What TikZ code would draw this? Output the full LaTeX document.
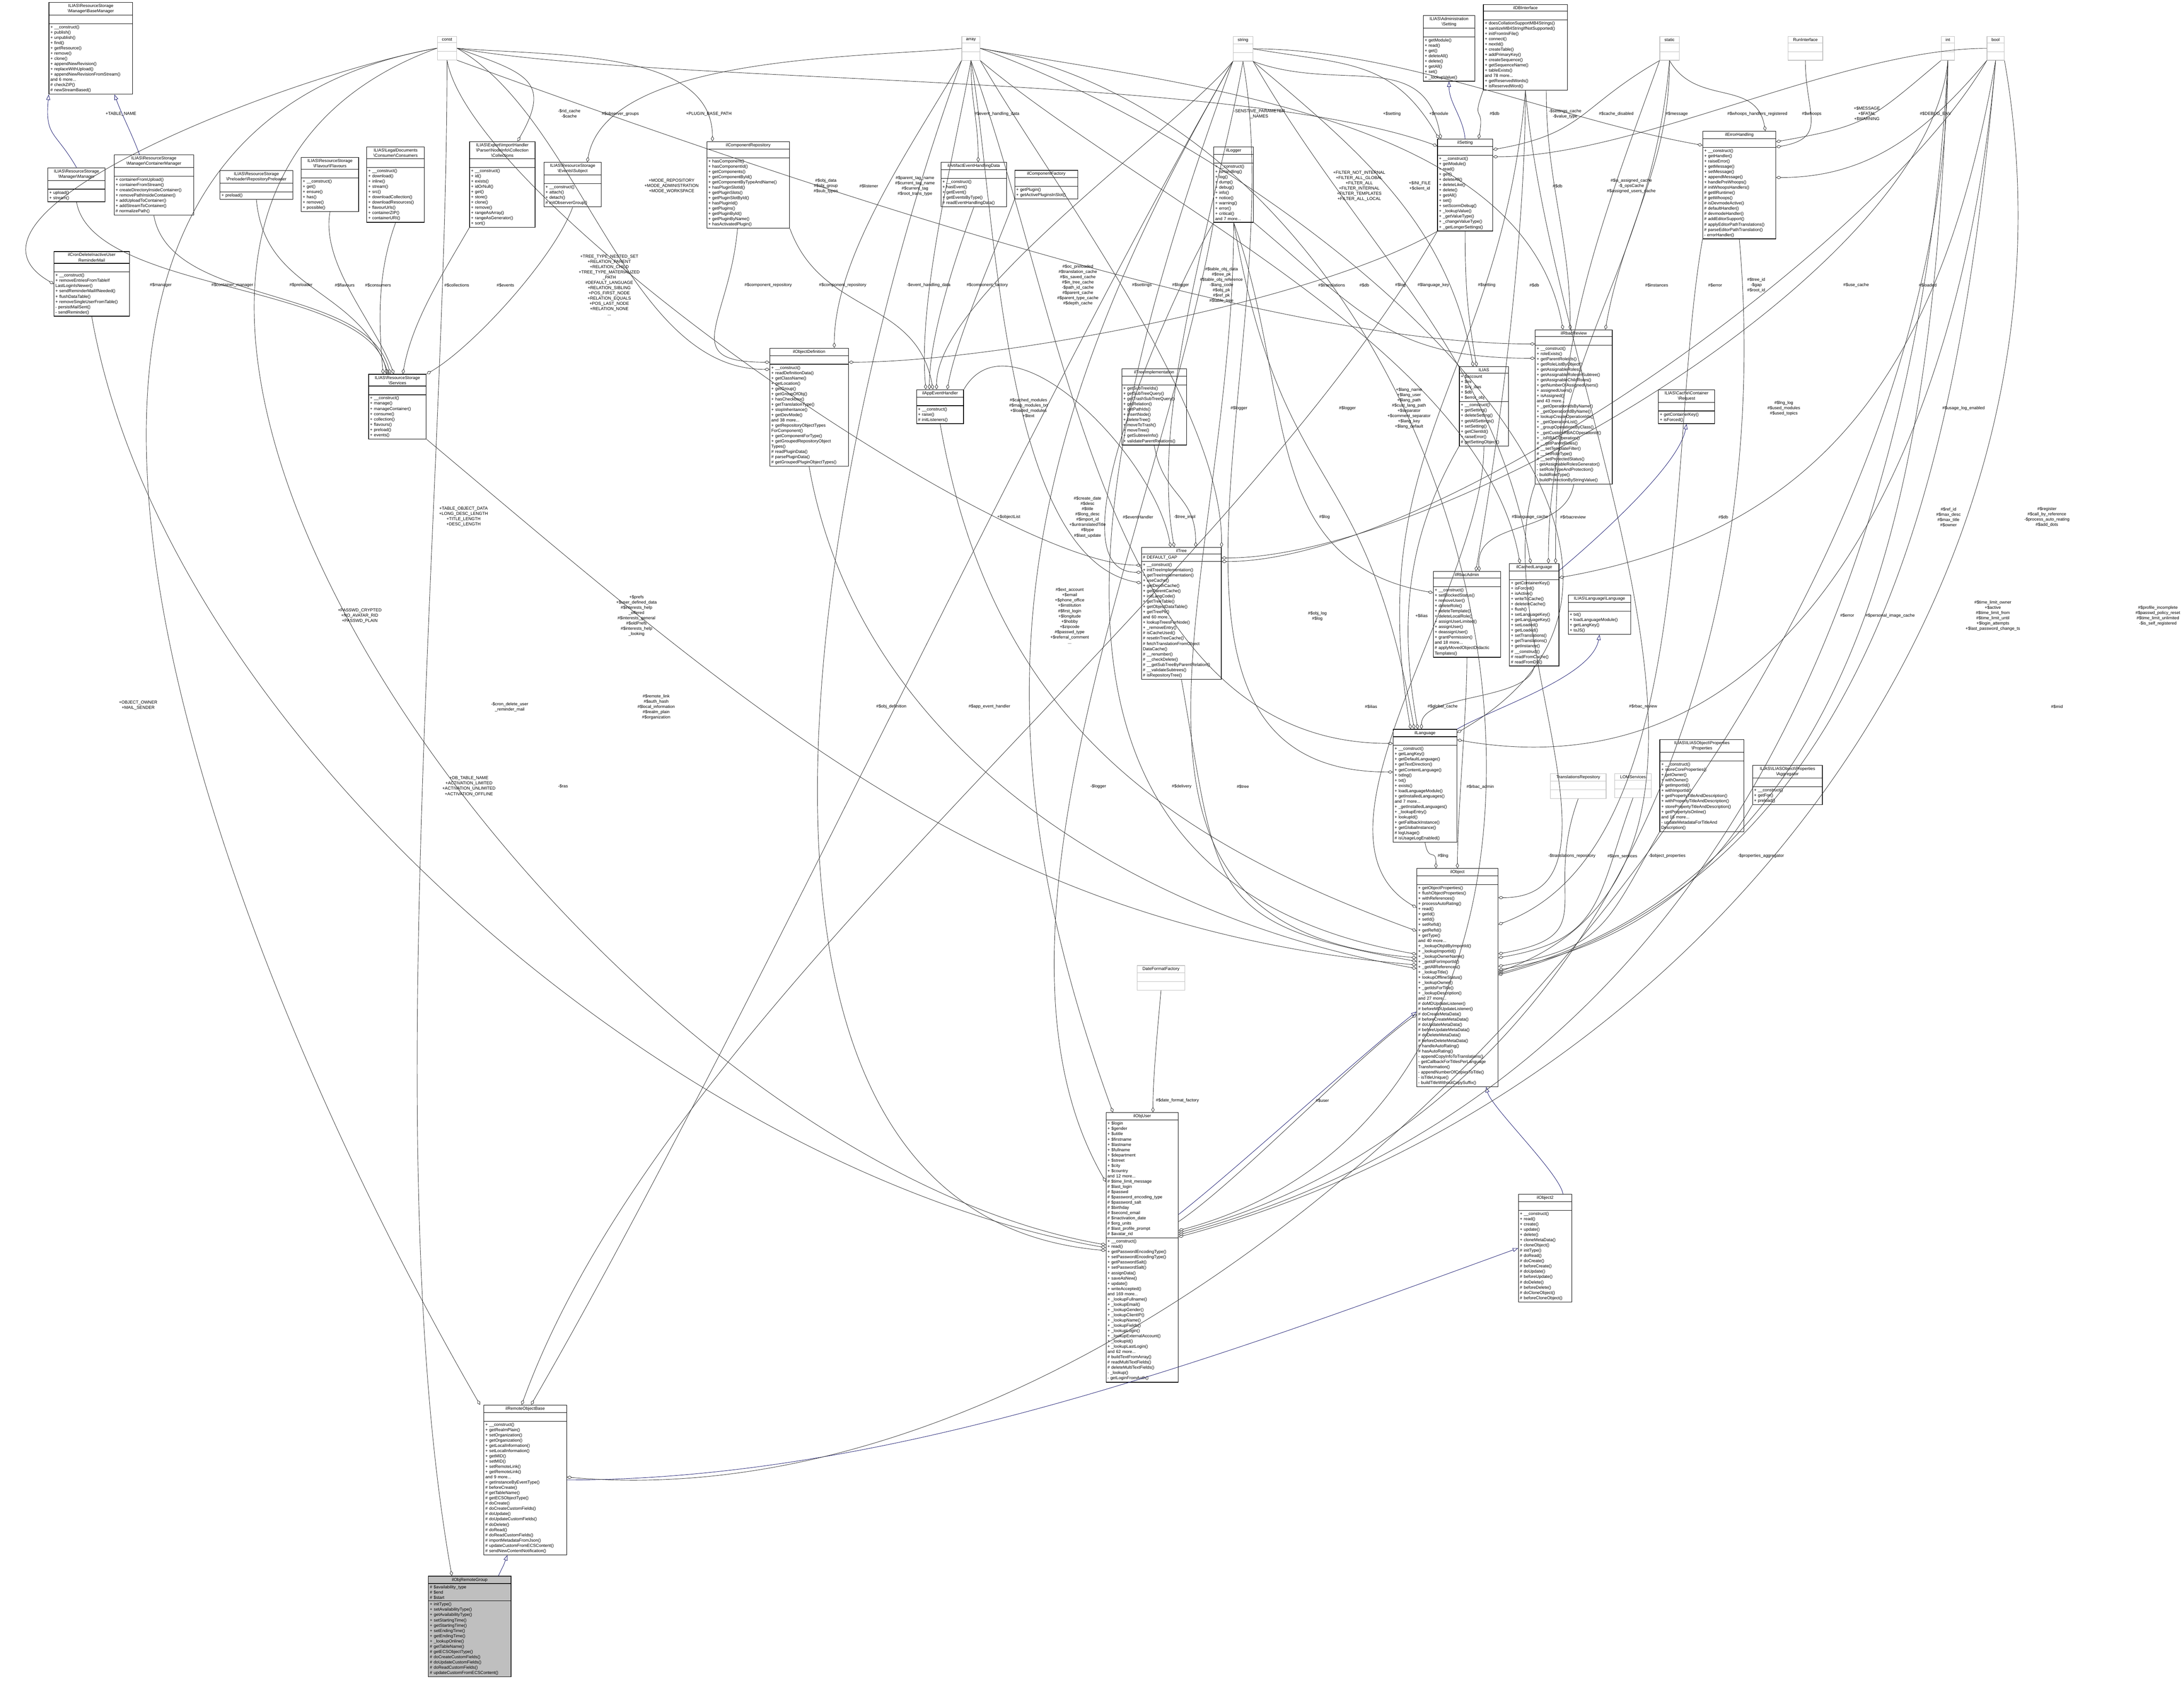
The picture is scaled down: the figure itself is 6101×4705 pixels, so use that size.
\documentclass[tikz,border=0pt]{standalone}
\usepackage{fontspec}
\setmainfont{Liberation Sans}
\usetikzlibrary{shapes.multipart,arrows.meta}
\definecolor{navy}{HTML}{191970}
\definecolor{typegray}{HTML}{BFBFBF}
\newcommand{\bsl}{\textbackslash}
\tikzset{
  cls/.style={rectangle split, rectangle split parts=3, draw, line width=1.5pt,
    anchor=north west, align=left, inner xsep=4pt, inner ysep=4pt,
    font=\fontsize{12}{14.7}\selectfont},
  tbox/.style={cls, draw=typegray},
  lbl/.style={font=\fontsize{12}{14.7}\selectfont, align=center, inner sep=0pt},
  ctl/.style n args={3}{to path={.. controls +(#1:#3) and +(#2:#3) .. (\tikztotarget)}},
  agg/.style={line width=1.1pt, draw=black!80, -{Diamond[open,length=15pt,width=9pt]}},
  inh/.style={line width=1.1pt, draw=navy, -{Triangle[open,length=15pt,width=11pt]}}
}
\begin{document}
\begin{tikzpicture}[x=1pt,y=-1pt]
\useasboundingbox (0,0) rectangle (6101,4705);

% type boxes
\node[tbox, text width=46pt] (tconst) at (1221,101) {\centering const\par\nodepart{two}\strut\nodepart{three}\strut};
\node[tbox, text width=43pt] (tarray) at (2686,101) {\centering array\par\nodepart{two}\strut\nodepart{three}\strut};
\node[tbox, text width=47pt] (tstring) at (3444,101) {\centering string\par\nodepart{two}\strut\nodepart{three}\strut};
\node[tbox, text width=46pt] (tstatic) at (4636,101) {\centering static\par\nodepart{two}\strut\nodepart{three}\strut};
\node[tbox, text width=89pt] (trun) at (4994,101) {\centering RunInterface\par\nodepart{two}\strut\nodepart{three}\strut};
\node[tbox, text width=29pt] (tint) at (5422,101) {\centering int\par\nodepart{two}\strut\nodepart{three}\strut};
\node[tbox, text width=40pt] (tbool) at (5550,101) {\centering bool\par\nodepart{two}\strut\nodepart{three}\strut};
\node[tbox, text width=148pt] (ttransrepo) at (4330,2161) {\centering TranslationsRepository\par\nodepart{two}\strut\nodepart{three}\strut};
\node[tbox, text width=94pt] (tlom) at (4510,2161) {\centering LOMServices\par\nodepart{two}\strut\nodepart{three}\strut};
\node[tbox, text width=125pt] (tdatefmt) at (3176,2697) {\centering DateFormatFactory\par\nodepart{two}\strut\nodepart{three}\strut};

% resource storage
\node[cls, text width=226pt] (basemgr) at (136,6) {\centering ILIAS\bsl ResourceStorage\\\bsl Manager\bsl BaseManager\par
  \nodepart{two}\strut
  \nodepart{three}+ \_\_construct()\\+ publish()\\+ unpublish()\\+ find()\\+ getResource()\\+ remove()\\+ clone()\\+ appendNewRevision()\\+ replaceWithUpload()\\+ appendNewRevisionFromStream()\\and 6 more...\\\# checkZIP()\\\# newStreamBased()};
\node[cls, text width=152pt] (rsmgr) at (133,468) {\centering ILIAS\bsl ResourceStorage\\\bsl Manager\bsl Manager\par
  \nodepart{two}\strut
  \nodepart{three}+ upload()\\+ stream()};
\node[cls, text width=214pt] (contmgr) at (318,432) {\centering ILIAS\bsl ResourceStorage\\\bsl Manager\bsl ContainerManager\par
  \nodepart{two}\strut
  \nodepart{three}+ containerFromUpload()\\+ containerFromStream()\\+ createDirectoryInsideContainer()\\+ removePathInsideContainer()\\+ addUploadToContainer()\\+ addStreamToContainer()\\\# normalizePath()};
\node[cls, text width=195pt] (preload) at (614,476) {\centering ILIAS\bsl ResourceStorage\\\bsl Preloader\bsl RepositoryPreloader\par
  \nodepart{two}\strut
  \nodepart{three}+ preload()};
\node[cls, text width=152pt] (flavours) at (841,439) {\centering ILIAS\bsl ResourceStorage\\\bsl Flavour\bsl Flavours\par
  \nodepart{two}\strut
  \nodepart{three}+ \_\_construct()\\+ get()\\+ ensure()\\+ has()\\+ remove()\\+ possible()};
\node[cls, text width=153pt] (consumers) at (1024,410) {\centering ILIAS\bsl LegalDocuments\\\bsl Consumer\bsl Consumers\par
  \nodepart{two}\strut
  \nodepart{three}+ \_\_construct()\\+ download()\\+ inline()\\+ stream()\\+ src()\\+ downloadCollection()\\+ downloadResources()\\+ flavourUrls()\\+ containerZIP()\\+ containerURI()};
\node[cls, text width=175pt] (collections) at (1311,395) {\centering ILIAS\bsl Export\bsl ImportHandler\\\bsl Parser\bsl NodeInfo\bsl Collection\\\bsl Collections\par
  \nodepart{two}\strut
  \nodepart{three}+ \_\_construct()\\+ id()\\+ exists()\\+ idOrNull()\\+ get()\\+ store()\\+ clone()\\+ remove()\\+ rangeAsArray()\\+ rangeAsGenerator()\\+ sort()};
\node[cls, text width=152pt] (evsubject) at (1519,453) {\centering ILIAS\bsl ResourceStorage\\\bsl Events\bsl Subject\par
  \nodepart{two}\strut
  \nodepart{three}+ \_\_construct()\\+ attach()\\+ detach()\\\# initObserverGroup()};
\node[cls, text width=203pt] (cronmail) at (150,702) {\centering ilCronDeleteInactiveUser\\ReminderMail\par
  \nodepart{two}\strut
  \nodepart{three}+ \_\_construct()\\+ removeEntriesFromTableIf\\LastLoginIsNewer()\\+ sendReminderMailIfNeeded()\\+ flushDataTable()\\+ removeSingleUserFromTable()\\- persistMailSent()\\- sendReminder()};
\node[cls, text width=153pt] (services) at (1029,1045) {\centering ILIAS\bsl ResourceStorage\\\bsl Services\par
  \nodepart{two}\strut
  \nodepart{three}+ \_\_construct()\\+ manage()\\+ manageContainer()\\+ consume()\\+ collection()\\+ flavours()\\+ preload()\\+ events()};

% components and events
\node[cls, text width=223pt] (comprepo) at (1974,395) {\centering ilComponentRepository\par
  \nodepart{two}\strut
  \nodepart{three}+ hasComponent()\\+ hasComponentId()\\+ getComponents()\\+ getComponentById()\\+ getComponentByTypeAndName()\\+ hasPluginSlotId()\\+ getPluginSlots()\\+ getPluginSlotById()\\+ hasPluginId()\\+ getPlugins()\\+ getPluginById()\\+ getPluginByName()\\+ hasActivatedPlugin()};
\node[cls, text width=211pt] (objdef) at (2150,972) {\centering ilObjectDefinition\par
  \nodepart{two}\strut
  \nodepart{three}+ \_\_construct()\\+ readDefinitionData()\\+ getClassName()\\+ getLocation()\\+ getGroup()\\+ getGroupOfObj()\\+ hasCheckbox()\\+ getTranslationType()\\+ stopInheritance()\\+ getDevMode()\\and 38 more...\\+ getRepositoryObjectTypes\\ForComponent()\\+ getComponentForType()\\+ getGroupedRepositoryObject\\Types()\\\# readPluginData()\\\# parsePluginData()\\\# getGroupedPluginObjectTypes()};
\node[cls, text width=175pt] (artevent) at (2628,453) {\centering ilArtifactEventHandlingData\par
  \nodepart{two}\strut
  \nodepart{three}+ \_\_construct()\\+ hasEvent()\\+ getEvent()\\+ getEventsByType()\\\# readEventHandlingData()};
\node[cls, text width=168pt] (compfact) at (2834,475) {\centering ilComponentFactory\par
  \nodepart{two}\strut
  \nodepart{three}+ getPlugin()\\+ getActivePluginsInSlot()};
\node[cls, text width=123pt] (appevent) at (2560,1088) {\centering ilAppEventHandler\par
  \nodepart{two}\strut
  \nodepart{three}+ \_\_construct()\\+ raise()\\\# initListeners()};
\node[cls, text width=173pt] (treeimpl) at (3133,1030) {\centering ilTreeImplementation\par
  \nodepart{two}\strut
  \nodepart{three}+ getSubTreeIds()\\+ getSubTreeQuery()\\+ getTrashSubTreeQuery()\\+ getRelation()\\+ getPathIds()\\+ insertNode()\\+ deleteTree()\\+ moveToTrash()\\+ moveTree()\\+ getSubtreeInfo()\\+ validateParentRelations()};

% settings, db, logging
\node[cls, text width=103pt] (logger) at (3390,410) {\centering ilLogger\par
  \nodepart{two}\strut
  \nodepart{three}+ \_\_construct()\\+ isHandling()\\+ log()\\+ dump()\\+ debug()\\+ info()\\+ notice()\\+ warning()\\+ error()\\+ critical()\\and 7 more...};
\node[cls, text width=136pt] (admset) at (3975,43) {\centering ILIAS\bsl Administration\\\bsl Setting\par
  \nodepart{two}\strut
  \nodepart{three}+ getModule()\\+ read()\\+ get()\\+ deleteAll()\\+ delete()\\+ getAll()\\+ set()\\+ \_lookupValue()};
\node[cls, text width=227pt] (dbif) at (4143,12) {\centering ilDBInterface\par
  \nodepart{two}\strut
  \nodepart{three}+ doesCollationSupportMB4Strings()\\+ sanitizeMB4StringIfNotSupported()\\+ initFromIniFile()\\+ connect()\\+ nextId()\\+ createTable()\\+ addPrimaryKey()\\+ createSequence()\\+ getSequenceName()\\+ tableExists()\\and 78 more...\\+ getReservedWords()\\+ isReservedWord()};
\node[cls, text width=146pt] (setting) at (4015,388) {\centering ilSetting\par
  \nodepart{two}\strut
  \nodepart{three}+ \_\_construct()\\+ getModule()\\+ read()\\+ get()\\+ deleteAll()\\+ deleteLike()\\+ delete()\\+ getAll()\\+ set()\\+ setScormDebug()\\+ \_lookupValue()\\+ \_getValueType()\\+ \_changeValueType()\\+ \_getLongerSettings()};
\node[cls, text width=129pt] (ilias) at (4076,1024) {\centering ILIAS\par
  \nodepart{two}+ \$account\\+ \$ini\\+ \$ini\_ilias\\+ \$db\\+ \$error\_obj
  \nodepart{three}+ \_\_construct()\\+ getSetting()\\+ deleteSetting()\\+ getAllSettings()\\+ setSetting()\\+ getClientId()\\+ raiseError()\\\# getSettingObject()};
\node[cls, text width=207pt] (rbacrev) at (4288,921) {\centering ilRbacReview\par
  \nodepart{two}\strut
  \nodepart{three}+ \_\_construct()\\+ roleExists()\\+ getParentRoleIds()\\+ getRoleListByObject()\\+ getAssignableRoles()\\+ getAssignableRolesInSubtree()\\+ getAssignableChildRoles()\\+ getNumberOfAssignedUsers()\\+ assignedUsers()\\+ isAssigned()\\and 43 more...\\+ \_getOperationIdsByName()\\+ \_getOperationIdByName()\\+ lookupCreateOperationIds()\\+ \_getOperationList()\\+ \_groupOperationsByClass()\\+ \_getCustomRBACOperationId()\\+ \_isRBACOperation()\\\# \_\_getParentRoles()\\\# \_\_setTemplateFilter()\\\# \_\_setRoleType()\\\# \_\_setProtectedStatus()\\- getAssignableRolesGenerator()\\- setRoleTypeAndProtection()\\- buildRoleType()\\- buildProtectionByStringValue()};
\node[cls, text width=196pt] (errh) at (4756,366) {\centering ilErrorHandling\par
  \nodepart{two}\strut
  \nodepart{three}+ \_\_construct()\\+ getHandler()\\+ raiseError()\\+ getMessage()\\+ setMessage()\\+ appendMessage()\\+ handlePreWhoops()\\\# initWhoopsHandlers()\\\# getIlRuntime()\\\# getWhoops()\\\# isDevmodeActive()\\\# defaultHandler()\\\# devmodeHandler()\\\# addEditorSupport()\\\# applyEditorPathTranslations()\\\# parseEditorPathTranslation()\\- errorHandler()};
\node[cls, text width=149pt] (cachereq) at (4632,1088) {\centering ILIAS\bsl Cache\bsl Container\\\bsl Request\par
  \nodepart{two}\strut
  \nodepart{three}+ getContainerKey()\\+ isForced()};

% tree, rbac, language
\node[cls, text width=215pt] (tree) at (3188,1529) {\centering ilTree\par
  \nodepart{two}\# DEFAULT\_GAP
  \nodepart{three}+ \_\_construct()\\+ initTreeImplementation()\\+ getTreeImplementation()\\+ useCache()\\+ getDepthCache()\\+ getParentCache()\\+ initLangCode()\\+ getTreeTable()\\+ getObjectDataTable()\\+ getTreePk()\\and 60 more...\\+ lookupTreesForNode()\\+ \_removeEntry()\\\# isCacheUsed()\\\# resetInTreeCache()\\\# fetchTranslationFromObject\\DataCache()\\\# \_\_renumber()\\\# \_\_checkDelete()\\\# \_\_getSubTreeByParentRelation()\\\# \_\_validateSubtrees()\\\# isRepositoryTree()};
\node[cls, text width=180pt] (rbacadm) at (4003,1596) {\centering ilRbacAdmin\par
  \nodepart{two}\strut
  \nodepart{three}+ \_\_construct()\\+ setBlockedStatus()\\+ removeUser()\\+ deleteRole()\\+ deleteTemplate()\\+ deleteLocalRole()\\+ assignUserLimited()\\+ assignUser()\\+ deassignUser()\\+ grantPermission()\\and 18 more...\\\# applyMovedObjectDidactic\\Templates()};
\node[cls, text width=130pt] (cachedlang) at (4216,1574) {\centering ilCachedLanguage\par
  \nodepart{two}\strut
  \nodepart{three}+ getContainerKey()\\+ isForced()\\+ isActive()\\+ writeToCache()\\+ deleteInCache()\\+ flush()\\+ setLanguageKey()\\+ getLanguageKey()\\+ setLoaded()\\+ getLoaded()\\+ setTranslations()\\+ getTranslations()\\+ getInstance()\\\# \_\_construct()\\\# readFromCache()\\\# readFromDB()};
\node[cls, text width=167pt] (langif) at (4380,1662) {\centering ILIAS\bsl Language\bsl Language\par
  \nodepart{two}\strut
  \nodepart{three}+ txt()\\+ loadLanguageModule()\\+ getLangKey()\\+ toJS()};
\node[cls, text width=170pt] (language) at (3891,2037) {\centering ilLanguage\par
  \nodepart{two}\strut
  \nodepart{three}+ \_\_construct()\\+ getLangKey()\\+ getDefaultLanguage()\\+ getTextDirection()\\+ getContentLanguage()\\+ txtlng()\\+ txt()\\+ exists()\\+ loadLanguageModule()\\+ getInstalledLanguages()\\and 7 more...\\+ \_getInstalledLanguages()\\+ \_lookupEntry()\\+ lookupId()\\+ getFallbackInstance()\\+ getGlobalInstance()\\\# logUsage()\\\# isUsageLogEnabled()};
\node[cls, text width=227pt] (props) at (4636,2066) {\centering ILIAS\bsl ILIASObject\bsl Properties\\\bsl Properties\par
  \nodepart{two}\strut
  \nodepart{three}+ \_\_construct()\\+ storeCoreProperties()\\+ getOwner()\\+ withOwner()\\+ getImportId()\\+ withImportId()\\+ getPropertyTitleAndDescription()\\+ withPropertyTitleAndDescription()\\+ storePropertyTitleAndDescription()\\+ getPropertyIsOnline()\\and 16 more...\\- updateMetadataForTitleAnd\\Description()};
\node[cls, text width=187pt] (aggr) at (4895,2138) {\centering ILIAS\bsl ILIASObject\bsl Properties\\\bsl Aggregator\par
  \nodepart{two}\strut
  \nodepart{three}+ \_\_construct()\\+ getFor()\\+ preload()};

% objects
\node[cls, text width=219pt] (object) at (3957,2426) {\centering ilObject\par
  \nodepart{two}\strut
  \nodepart{three}+ getObjectProperties()\\+ flushObjectProperties()\\+ withReferences()\\+ processAutoRating()\\+ read()\\+ getId()\\+ setId()\\+ setRefId()\\+ getRefId()\\+ getType()\\and 40 more...\\+ \_lookupObjIdByImportId()\\+ \_lookupImportId()\\+ \_lookupOwnerName()\\+ \_getIdForImportId()\\+ \_getAllReferences()\\+ \_lookupTitle()\\+ lookupOfflineStatus()\\+ \_lookupOwner()\\+ \_getIdsForTitle()\\+ \_lookupDescription()\\and 27 more...\\\# doMDUpdateListener()\\\# beforeMDUpdateListener()\\\# doCreateMetaData()\\\# beforeCreateMetaData()\\\# doUpdateMetaData()\\\# beforeUpdateMetaData()\\\# doDeleteMetaData()\\\# beforeDeleteMetaData()\\\# handleAutoRating()\\\# hasAutoRating()\\- appendCopyInfoToTranslations()\\- getCallbackForTitlesPerLanguage\\Transformation()\\- appendNumberOfCopiesToTitle()\\- isTitleUnique()\\- buildTitleWithoutCopySuffix()};
\node[cls, text width=141pt] (object2) at (4241,3336) {\centering ilObject2\par
  \nodepart{two}\strut
  \nodepart{three}+ \_\_construct()\\+ read()\\+ create()\\+ update()\\+ delete()\\+ cloneMetaData()\\+ cloneObject()\\\# initType()\\\# doRead()\\\# doCreate()\\\# beforeCreate()\\\# doUpdate()\\\# beforeUpdate()\\\# doDelete()\\\# beforeDelete()\\\# doCloneObject()\\\# beforeCloneObject()};
\node[cls, text width=194pt] (objuser) at (3089,3108) {\centering ilObjUser\par
  \nodepart{two}+ \$login\\+ \$gender\\+ \$utitle\\+ \$firstname\\+ \$lastname\\+ \$fullname\\+ \$department\\+ \$street\\+ \$city\\+ \$country\\and 12 more...\\\# \$time\_limit\_message\\\# \$last\_login\\\# \$passwd\\\# \$password\_encoding\_type\\\# \$password\_salt\\\# \$birthday\\\# \$second\_email\\\# \$inactivation\_date\\\# \$org\_units\\\# \$last\_profile\_prompt\\\# \$avatar\_rid
  \nodepart{three}+ \_\_construct()\\+ read()\\+ getPasswordEncodingType()\\+ setPasswordEncodingType()\\+ getPasswordSalt()\\+ setPasswordSalt()\\+ assignData()\\+ saveAsNew()\\+ update()\\+ writeAccepted()\\and 169 more...\\+ \_lookupFullname()\\+ \_lookupEmail()\\+ \_lookupGender()\\+ \_lookupClientIP()\\+ \_lookupName()\\+ \_lookupFields()\\+ \_lookupLogin()\\+ \_lookupExternalAccount()\\+ \_lookupId()\\+ \_lookupLastLogin()\\and 62 more...\\\# buildTextFromArray()\\\# readMultiTextFields()\\\# deleteMultiTextFields()\\- \_lookup()\\- getLoginFromAuth()};
\node[cls, text width=223pt] (remotebase) at (1351,3925) {\centering ilRemoteObjectBase\par
  \nodepart{two}\strut
  \nodepart{three}+ \_\_construct()\\+ getRealmPlain()\\+ setOrganization()\\+ getOrganization()\\+ getLocalInformation()\\+ setLocalInformation()\\+ getMID()\\+ setMID()\\+ setRemoteLink()\\+ getRemoteLink()\\and 9 more...\\+ getInstanceByEventType()\\\# beforeCreate()\\\# getTableName()\\\# getECSObjectType()\\\# doCreate()\\\# doCreateCustomFields()\\\# doUpdate()\\\# doUpdateCustomFields()\\\# doDelete()\\\# doRead()\\\# doReadCustomFields()\\\# importMetadataFromJson()\\\# updateCustomFromECSContent()\\\# sendNewContentNotification()};
\node[cls, fill=typegray, text width=223pt] (remotegrp) at (1196,4403) {\centering ilObjRemoteGroup\par
  \nodepart{two}\# \$availability\_type\\\# \$end\\\# \$start
  \nodepart{three}+ initType()\\+ setAvailabilityType()\\+ getAvailabilityType()\\+ setStartingTime()\\+ getStartingTime()\\+ setEndingTime()\\+ getEndingTime()\\+ \_lookupOnline()\\\# getTableName()\\\# getECSObjectType()\\\# doCreateCustomFields()\\\# doUpdateCustomFields()\\\# doReadCustomFields()\\\# updateCustomFromECSContent()};

% inheritance
\draw[inh] (rsmgr.north) to[ctl={120}{-95}{120pt}] (basemgr.south west);
\draw[inh] ([xshift=-40pt]contmgr.north) to[ctl={110}{-70}{60pt}] ([xshift=66pt]basemgr.south);
\draw[inh] (setting.north) to[ctl={95}{-90}{60pt}] (admset.south);
\draw[inh] (language.north east) to[ctl={30}{-100}{120pt}] (langif.south);
\draw[inh] ([yshift=-20pt]cachedlang.north east) to[ctl={40}{-100}{120pt}] (cachereq.south);
\draw[inh] ([xshift=50pt]object2.north) to[ctl={100}{-75}{60pt}] ([xshift=80pt]object.south);
\draw[inh] ([yshift=-285pt]objuser.north east) to[ctl={38}{-142}{200pt}] ([yshift=-95pt]object.west);
\draw[inh] (remotebase.east) to[ctl={0}{-160}{900pt}] (object2.west);
\draw[inh] ([xshift=80pt]remotegrp.north) to[ctl={65}{-110}{40pt}] ([xshift=-50pt]remotebase.south);

% aggregation: resource storage
\draw[agg] (rsmgr.south) to[ctl={-80}{100}{260pt}] ([xshift=-30pt]services.north);
\draw[agg] (contmgr.south) to[ctl={-80}{105}{260pt}] ([xshift=-20pt]services.north);
\draw[agg] (preload.south) to[ctl={-85}{110}{260pt}] ([xshift=-25pt]services.north);
\draw[agg] (flavours.south) to[ctl={-100}{110}{150pt}] ([xshift=-10pt]services.north);
\draw[agg] (consumers.south) to[ctl={-110}{95}{150pt}] ([xshift=-40pt]services.north);
\draw[agg] (collections.south west) to[ctl={-120}{80}{150pt}] ([xshift=15pt]services.north);
\draw[agg] (evsubject.south) to[ctl={-110}{30}{150pt}] (services.north east);
\draw[agg] (tconst.west) to[ctl={190}{150}{400pt}] (cronmail.west);
\draw[agg] (tconst.east) to[ctl={-20}{60}{200pt}] ([xshift=-50pt]collections.north east);
\draw[agg] (tarray.west) to[ctl={185}{80}{300pt}] ([xshift=-40pt]evsubject.north east);

% aggregation: components
\draw[agg] (tconst.east) to[ctl={-5}{90}{260pt}] ([xshift=-100pt]comprepo.north);
\draw[agg] (tarray.south) to[ctl={-90}{90}{120pt}] ([xshift=-80pt]artevent.north east);
\draw[agg] (artevent.south) to[ctl={-110}{90}{150pt}] ([xshift=-30pt]appevent.north);
\draw[agg] (compfact.south west) to[ctl={-110}{80}{150pt}] ([xshift=20pt]appevent.north);
\draw[agg] ([xshift=-30pt]comprepo.south) to[ctl={-95}{180}{260pt}] ([yshift=-40pt]objdef.north west);
\draw[agg] (comprepo.south east) to[ctl={-70}{100}{260pt}] ([xshift=-20pt]appevent.north);
\draw[agg] (tconst.east) to[ctl={-30}{180}{400pt}] ([yshift=-60pt]objdef.north west);
\draw[agg] (tarray.south west) to[ctl={-120}{90}{260pt}] ([xshift=-40pt]objdef.north east);
\draw[agg] (tarray.south) to[ctl={-100}{95}{260pt}] ([xshift=-40pt]appevent.north);
\draw[agg] (tstring.south west) to[ctl={-130}{90}{260pt}] ([xshift=-10pt]appevent.north);
\draw[agg] (setting.south west) to[ctl={-150}{0}{400pt}] ([yshift=-40pt]objdef.north east);

% aggregation: tree
\draw[agg] (tconst.south) to[ctl={-80}{180}{400pt}] ([yshift=-50pt]tree.north west);
\draw[agg] (treeimpl.south) to[ctl={-80}{90}{150pt}] ([xshift=40pt]tree.north);
\draw[agg] (appevent.north east) to[ctl={60}{100}{260pt}] ([xshift=-30pt]tree.north);
\draw[agg] (tarray.south east) to[ctl={-60}{90}{400pt}] (tree.north east);
\draw[agg] (tstring.south) to[ctl={-100}{100}{400pt}] ([xshift=-20pt]tree.north);
\draw[agg] (tint.south) to[ctl={-95}{0}{600pt}] ([yshift=-30pt]tree.north east);
\draw[agg] (tbool.south west) to[ctl={-120}{0}{600pt}] ([yshift=-40pt]tree.north east);
\draw[agg] (logger.south west) to[ctl={-120}{180}{260pt}] ([yshift=-70pt]tree.north west);
\draw[agg] (tarray.south) to[ctl={-80}{170}{400pt}] ([yshift=-100pt]tree.north west);

% aggregation: settings and rbac
\draw[agg] (tstring.east) to[ctl={-10}{120}{260pt}] ([xshift=5pt]setting.north west);
\draw[agg] (tstring.south east) to[ctl={-20}{100}{260pt}] ([xshift=10pt]setting.north west);
\draw[agg] (dbif.south west) to[ctl={-110}{80}{100pt}] ([xshift=-40pt]setting.north east);
\draw[agg] (tstatic.south west) to[ctl={-150}{10}{260pt}] ([yshift=-30pt]setting.north east);
\draw[agg] (tbool.west) to[ctl={180}{0}{400pt}] ([yshift=-50pt]setting.north east);
\draw[agg] (tconst.east) to[ctl={-10}{160}{600pt}] ([yshift=-20pt]setting.north west);
\draw[agg] (tconst.south east) to[ctl={-20}{180}{800pt}] ([yshift=-40pt]rbacrev.north west);
\draw[agg] (tstring.south east) to[ctl={-40}{100}{400pt}] ([xshift=-30pt]ilias.north);
\draw[agg] (tarray.east) to[ctl={-10}{100}{600pt}] ([xshift=-30pt]rbacrev.north);
\draw[agg] ([xshift=-60pt]dbif.south east) to[ctl={-90}{90}{260pt}] ([xshift=-10pt]rbacrev.north);
\draw[agg] (setting.south) to[ctl={-90}{100}{150pt}] ([xshift=-20pt]ilias.north);
\draw[agg] (dbif.south) to[ctl={-90}{80}{400pt}] ([xshift=-70pt]rbacadm.north east);
\draw[agg] (tstatic.south) to[ctl={-90}{80}{300pt}] ([xshift=-20pt]rbacrev.north east);

% aggregation: error handling
\draw[agg] (tstring.east) to[ctl={0}{170}{400pt}] ([yshift=-40pt]errh.north west);
\draw[agg] (tstatic.south) to[ctl={-60}{100}{150pt}] ([xshift=-30pt]errh.north east);
\draw[agg] (trun.south) to[ctl={-90}{10}{150pt}] ([yshift=-45pt]errh.north east);
\draw[agg] (tint.south west) to[ctl={-140}{10}{260pt}] ([yshift=-30pt]errh.north east);
\draw[agg] (tbool.south west) to[ctl={-130}{0}{260pt}] ([yshift=-130pt]errh.north east);
\draw[agg] (errh.south west) to[ctl={-100}{20}{600pt}] ([yshift=-157pt]object.north east);

% aggregation: language
\draw[agg] (tarray.south east) to[ctl={-40}{100}{600pt}] ([xshift=30pt]cachedlang.north west);
\draw[agg] (tstring.south east) to[ctl={-60}{100}{600pt}] ([xshift=60pt]cachedlang.north west);
\draw[agg] (tstatic.south) to[ctl={-95}{90}{600pt}] ([xshift=-30pt]cachedlang.north east);
\draw[agg] (tstatic.south west) to[ctl={-110}{90}{600pt}] ([xshift=-10pt]cachedlang.north east);
\draw[agg] (tbool.south) to[ctl={-100}{10}{800pt}] ([yshift=-40pt]cachedlang.north east);
\draw[agg] (dbif.south) to[ctl={-95}{100}{800pt}] ([xshift=-40pt]language.north);
\draw[agg] (logger.south) to[ctl={-80}{100}{800pt}] ([xshift=-30pt]language.north);
\draw[agg] (logger.south east) to[ctl={-40}{180}{400pt}] ([yshift=-80pt]rbacrev.north west);
\draw[agg] (logger.south) to[ctl={-70}{170}{500pt}] ([yshift=-60pt]rbacadm.north west);
\draw[agg] (tarray.south) to[ctl={-70}{180}{800pt}] ([yshift=-40pt]language.north west);
\draw[agg] (tstring.south) to[ctl={-80}{180}{800pt}] ([yshift=-120pt]language.north west);
\draw[agg] (tarray.east) to[ctl={-20}{30}{1000pt}] ([yshift=-10pt]language.north east);
\draw[agg] (tbool.south) to[ctl={-95}{-10}{1000pt}] ([yshift=-30pt]language.north east);
\draw[agg] (ilias.south west) to[ctl={-120}{100}{300pt}] ([xshift=-20pt]language.north);
\draw[agg] (cachedlang.south) to[ctl={-100}{90}{100pt}] ([xshift=-10pt]language.north);
\draw[agg] (rbacrev.south) to[ctl={-100}{95}{150pt}] ([xshift=-60pt]rbacadm.north east);

% aggregation: object
\draw[agg] (tstring.south west) to[ctl={-110}{170}{1200pt}] ([yshift=-240pt]object.north west);
\draw[agg] (logger.south) to[ctl={-90}{175}{1000pt}] ([yshift=-250pt]object.north west);
\draw[agg] (ilias.south) to[ctl={-90}{150}{400pt}] ([yshift=-110pt]object.north west);
\draw[agg] (rbacrev.south west) to[ctl={-110}{0}{400pt}] ([yshift=-82pt]object.north east);
\draw[agg] (tree.south) to[ctl={-80}{170}{600pt}] ([yshift=-260pt]object.north west);
\draw[agg] (services.south east) to[ctl={-40}{175}{1200pt}] ([yshift=-270pt]object.north west);
\draw[agg] (rbacadm.south) to[ctl={-90}{90}{150pt}] (object.north);
\draw[agg] (language.south) to[ctl={-80}{90}{60pt}] ([xshift=-60pt]object.north);
\draw[agg] (ttransrepo.south) to[ctl={-110}{10}{300pt}] ([yshift=-239pt]object.north east);
\draw[agg] (tlom.south) to[ctl={-110}{10}{300pt}] ([yshift=-250pt]object.north east);
\draw[agg] (props.south west) to[ctl={-120}{10}{300pt}] ([yshift=-274pt]object.north east);
\draw[agg] (aggr.south west) to[ctl={-120}{10}{300pt}] ([yshift=-284pt]object.north east);
\draw[agg] (objdef.south) to[ctl={-80}{170}{800pt}] ([yshift=-280pt]object.north west);
\draw[agg] (appevent.south) to[ctl={-80}{160}{800pt}] ([yshift=-175pt]object.north west);
\draw[agg] (dbif.south) to[ctl={-85}{20}{900pt}] ([yshift=-290pt]object.north east);
\draw[agg] (tint.south) to[ctl={-92}{15}{1100pt}] ([yshift=-294pt]object.north east);
\draw[agg] (tbool.south) to[ctl={-95}{15}{1100pt}] ([yshift=-298pt]object.north east);
\draw[agg] ([yshift=-305pt]objuser.north east) to[ctl={34}{-145}{200pt}] ([yshift=-103pt]object.west);

% aggregation: user and remote objects
\draw[agg] (tstring.south west) to[ctl={-120}{110}{1200pt}] ([xshift=20pt]objuser.north west);
\draw[agg] (tconst.west) to[ctl={200}{170}{1500pt}] ([yshift=-370pt]objuser.north west);
\draw[agg] (cronmail.south) to[ctl={-80}{170}{1200pt}] ([yshift=-378pt]objuser.north west);
\draw[agg] (tarray.south west) to[ctl={-110}{175}{1200pt}] ([yshift=-386pt]objuser.north west);
\draw[agg] (logger.south west) to[ctl={-100}{120}{800pt}] ([yshift=-194pt]objuser.north west);
\draw[agg] (tdatefmt.south) to[ctl={-95}{90}{100pt}] ([xshift=30pt]objuser.north);
\draw[agg] (tarray.east) to[ctl={-10}{15}{1500pt}] ([yshift=-330pt]objuser.north east);
\draw[agg] (errh.south) to[ctl={-85}{15}{1200pt}] ([yshift=-336pt]objuser.north east);
\draw[agg] (tint.south) to[ctl={-93}{15}{1500pt}] ([yshift=-342pt]objuser.north east);
\draw[agg] (tbool.south east) to[ctl={-80}{15}{1500pt}] ([yshift=-348pt]objuser.north east);
\draw[agg] (tconst.west) to[ctl={190}{120}{1500pt}] ([xshift=-10pt]remotebase.north west);
\draw[agg] (tconst.south) to[ctl={-90}{100}{1200pt}] ([xshift=-50pt]remotegrp.north);
\draw[agg] (tstring.south west) to[ctl={-120}{60}{1200pt}] ([xshift=-100pt]remotebase.north east);
\draw[agg] (setting.south west) to[ctl={-120}{70}{1200pt}] ([xshift=-10pt]remotebase.north);
\draw[agg] (tint.south) to[ctl={-90}{-5}{1800pt}] ([yshift=8pt]remotebase.east);

% labels
\node[lbl] (lrid) at (1590,318) {-\$rid\_cache\\-\$cache};
\node[lbl] (ltable) at (338,318) {+TABLE\_NAME};
\node[lbl] (lmgr) at (449,797) {\#\$manager};
\node[lbl] (lcmgr) at (649,797) {\#\$container\_manager};
\node[lbl] (lprel) at (841,797) {\#\$preloader};
\node[lbl] (lflav) at (963,797) {\#\$flavours};
\node[lbl] (lcons) at (1056,797) {\#\$consumers};
\node[lbl] (lcoll) at (1276,797) {\#\$collections};
\node[lbl] (lev) at (1412,797) {\#\$events};
\node[lbl] (lobsg) at (1733,318) {\#\$observer\_groups};
\node[lbl] (lplug) at (1980,318) {+PLUGIN\_BASE\_PATH};
\node[lbl] (lmode) at (1876,520) {+MODE\_REPOSITORY\\+MODE\_ADMINISTRATION\\+MODE\_WORKSPACE};
\node[lbl] (lobjdata) at (2307,520) {\#\$obj\_data\\\#\$obj\_group\\\#\$sub\_types};
\node[lbl] (llist) at (2427,520) {\#\$listener};
\node[lbl] (lptag) at (2556,520) {\#\$parent\_tag\_name\\\#\$current\_tag\_name\\\#\$current\_tag\\\#\$root\_trans\_type};
\node[lbl] (levhd) at (2785,318) {\#\$event\_handling\_data};
\node[lbl] (lcrep1) at (2146,797) {\#\$component\_repository};
\node[lbl] (lcrep2) at (2354,797) {\#\$component\_repository};
\node[lbl] (levhd2) at (2594,797) {-\$event\_handling\_data};
\node[lbl] (lcfact) at (2758,797) {\#\$component\_factory};
\node[lbl] (lttype) at (1702,797) {+TREE\_TYPE\_NESTED\_SET\\+RELATION\_PARENT\\+RELATION\_CHILD\\+TREE\_TYPE\_MATERIALIZED\\\_PATH\\\#DEFAULT\_LANGUAGE\\+RELATION\_SIBLING\\+POS\_FIRST\_NODE\\+RELATION\_EQUALS\\+POS\_LAST\_NODE\\+RELATION\_NONE\\...};
\node[lbl] (locpre) at (3011,797) {\#\$oc\_preloaded\\\#\$translation\_cache\\\#\$is\_saved\_cache\\\#\$in\_tree\_cache\\-\$path\_id\_cache\\\#\$parent\_cache\\\#\$parent\_type\_cache\\\#\$depth\_cache};
\node[lbl] (lcached) at (2873,1140) {\#\$cached\_modules\\\#\$map\_modules\_txt\\+\$loaded\_modules\\+\$text};
\node[lbl] (lsens) at (3518,318) {-SENSTIVE\_PARAMETER\\\_NAMES};
\node[lbl] (lsetting) at (3888,318) {+\$setting};
\node[lbl] (lmodule) at (4019,318) {+\$module};
\node[lbl] (ldb1) at (4175,318) {\#\$db};
\node[lbl] (lscache) at (4372,318) {-\$settings\_cache\\-\$value\_type};
\node[lbl] (lcdis) at (4515,318) {\#\$cache\_disabled};
\node[lbl] (lfilter) at (3797,520) {+FILTER\_NOT\_INTERNAL\\+FILTER\_ALL\_GLOBAL\\+FILTER\_ALL\\+FILTER\_INTERNAL\\+FILTER\_TEMPLATES\\+FILTER\_ALL\_LOCAL};
\node[lbl] (lini) at (3966,520) {+\$INI\_FILE\\+\$client\_id};
\node[lbl] (ldb2) at (4351,520) {\#\$db};
\node[lbl] (lassig) at (4557,520) {\#\$is\_assigned\_cache\\-\$\_opsCache\\\#\$assigned\_users\_cache};
\node[lbl] (lsettings) at (3190,797) {\#\$settings};
\node[lbl] (llogger1) at (3298,797) {\#\$logger};
\node[lbl] (ltobj) at (3412,797) {\#\$table\_obj\_data\\\#\$tree\_pk\\\#\$table\_obj\_reference\\-\$lang\_code\\\#\$obj\_pk\\\#\$ref\_pk\\\#\$table\_tree};
\node[lbl] (ltrans) at (3720,797) {\#\$translations};
\node[lbl] (ldb3) at (3811,797) {\#\$db};
\node[lbl] (llog1) at (3912,797) {\#\$log};
\node[lbl] (llkey) at (4004,797) {\#\$language\_key};
\node[lbl] (lsetting2) at (4153,797) {\#\$setting};
\node[lbl] (ldb4) at (4286,797) {\#\$db};
\node[lbl] (linst) at (4628,797) {\#\$instances};
\node[lbl] (lerror) at (4791,797) {\#\$error};
\node[lbl] (ltreeid) at (4906,797) {\#\$tree\_id\\-\$gap\\\#\$root\_id};
\node[lbl] (lusec) at (5185,797) {\#\$use\_cache};
\node[lbl] (lloaded) at (5385,797) {\#\$loaded};
\node[lbl] (lmsg) at (4684,318) {\#\$message};
\node[lbl] (lwhr) at (4909,318) {\#\$whoops\_handlers\_registered};
\node[lbl] (lwhoops) at (5061,318) {\#\$whoops};
\node[lbl] (lmess) at (5215,318) {+\$MESSAGE\\+\$FATAL\\+\$WARNING};
\node[lbl] (ldebug) at (5407,318) {\#\$DEBUG\_ENV};
\node[lbl] (llogger2) at (3461,1141) {\#\$logger};
\node[lbl] (llogger3) at (3764,1141) {\#\$logger};
\node[lbl] (llname) at (3936,1141) {+\$lang\_name\\+\$lang\_user\\+\$lang\_path\\\#\$cust\_lang\_path\\+\$separator\\+\$comment\_separator\\+\$lang\_key\\+\$lang\_default};
\node[lbl] (llnglog) at (4983,1141) {\#\$lng\_log\\\#\$used\_modules\\\#\$used\_topics};
\node[lbl] (lusage) at (5485,1141) {\#\$usage\_log\_enabled};
\node[lbl] (lobjlist) at (2818,1445) {+\$objectList};
\node[lbl] (lcdate) at (3038,1445) {\#\$create\_date\\\#\$desc\\\#\$title\\\#\$long\_desc\\\#\$import\_id\\+\$untranslatedTitle\\\#\$type\\\#\$last\_update};
\node[lbl] (levh) at (3179,1445) {\#\$eventHandler};
\node[lbl] (ltimpl) at (3309,1445) {-\$tree\_impl};
\node[lbl] (llog2) at (3700,1445) {\#\$log};
\node[lbl] (llcache) at (4274,1445) {\#\$language\_cache};
\node[lbl] (lrbrev) at (4394,1445) {\#\$rbacreview};
\node[lbl] (ldb5) at (4814,1445) {\#\$db};
\node[lbl] (lrefid) at (5443,1445) {\#\$ref\_id\\\#\$max\_desc\\\#\$max\_title\\\#\$owner};
\node[lbl] (lregister) at (5718,1445) {\#\$register\\\#\$call\_by\_reference\\-\$process\_auto\_reating\\\#\$add\_dots};
\node[lbl] (lerror2) at (5160,1720) {\#\$error};
\node[lbl] (lpic) at (5280,1720) {\#\$personal\_image\_cache};
\node[lbl] (ltlimit) at (5567,1720) {\#\$time\_limit\_owner\\+\$active\\\#\$time\_limit\_from\\\#\$time\_limit\_until\\+\$login\_attempts\\+\$last\_password\_change\_ts};
\node[lbl] (lprofile) at (6028,1720) {\#\$profile\_incomplete\\\#\$passwd\_policy\_reset\\\#\$time\_limit\_unlimited\\-\$is\_self\_registered};
\node[lbl] (lmid) at (5746,1974) {\#\$mid};
\node[lbl] (lextacc) at (2988,1721) {\#\$ext\_account\\+\$email\\+\$phone\_office\\+\$institution\\\#\$first\_login\\+\$longitude\\+\$hobby\\+\$zipcode\\\#\$passwd\_type\\+\$referral\_comment\\...};
\node[lbl] (lobjlog) at (3680,1721) {\#\$obj\_log\\\#\$log};
\node[lbl] (lilias1) at (3971,1721) {+\$ilias};
\node[lbl] (lilias2) at (3830,1974) {\#\$ilias};
\node[lbl] (lgcache) at (4030,1974) {\#\$global\_cache};
\node[lbl] (lrbrev2) at (4590,1974) {\#\$rbac\_review};
\node[lbl] (lobjdef) at (2490,1974) {\#\$obj\_definition};
\node[lbl] (lappev) at (2764,1974) {\#\$app\_event\_handler};
\node[lbl] (llogger4) at (3068,2198) {-\$logger};
\node[lbl] (ldeliv) at (3301,2198) {\#\$delivery};
\node[lbl] (ltree) at (3472,2198) {\#\$tree};
\node[lbl] (lrbadm) at (4135,2198) {\#\$rbac\_admin};
\node[lbl] (llng) at (4031,2392) {\#\$lng};
\node[lbl] (ltrrep) at (4391,2392) {-\$translations\_repository};
\node[lbl] (llom) at (4532,2392) {\#\$lom\_services};
\node[lbl] (lobjprop) at (4657,2392) {-\$object\_properties};
\node[lbl] (lpraggr) at (4919,2392) {-\$properties\_aggregator};
\node[lbl] (ldfmt) at (3289,3075) {\#\$date\_format\_factory};
\node[lbl] (luser) at (3694,3075) {\#\$user};
\node[lbl] (lowner) at (386,1971) {+OBJECT\_OWNER\\+MAIL\_SENDER};
\node[lbl] (lpasswd) at (1005,1720) {+PASSWD\_CRYPTED\\+NO\_AVATAR\_RID\\+PASSWD\_PLAIN};
\node[lbl] (ltobjd) at (1295,1444) {+TABLE\_OBJECT\_DATA\\+LONG\_DESC\_LENGTH\\+TITLE\_LENGTH\\+DESC\_LENGTH};
\node[lbl] (ldbtable) at (1310,2197) {+DB\_TABLE\_NAME\\+ACTIVATION\_LIMITED\\+ACTIVATION\_UNLIMITED\\+ACTIVATION\_OFFLINE};
\node[lbl] (lcron) at (1424,1975) {-\$cron\_delete\_user\\\_reminder\_mail};
\node[lbl] (lremote) at (1833,1975) {\#\$remote\_link\\\#\$auth\_hash\\\#\$local\_information\\\#\$realm\_plain\\\#\$organization};
\node[lbl] (lprefs) at (1778,1720) {+\$prefs\\+\$user\_defined\_data\\\#\$interests\_help\\\_offered\\\#\$interests\_general\\\#\$oldPrefs\\\#\$interests\_help\\\_looking};
\node[lbl] (lras) at (1573,2197) {-\$ras};

\end{tikzpicture}
\end{document}
